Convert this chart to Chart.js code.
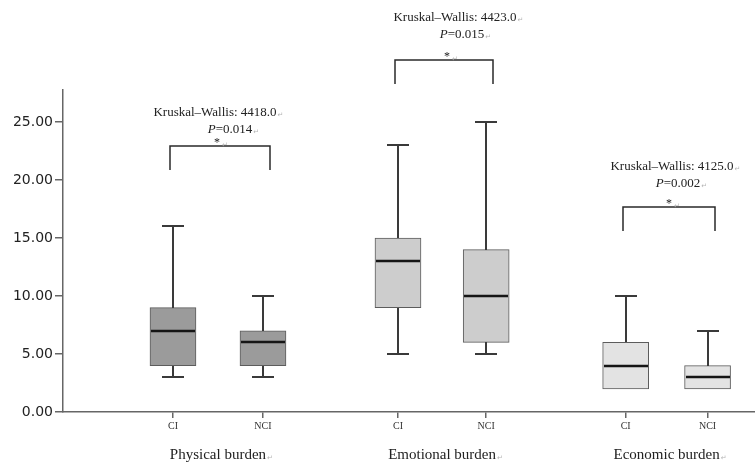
<!DOCTYPE html>
<html>
<head>
<meta charset="utf-8">
<script src="https://cdn.jsdelivr.net/npm/chart.js@4"></script>
<style>
  body { margin: 0; background: #fff; }
</style>
</head>
<body>
<canvas id="box" width="755" height="470"></canvas>
<script>
// data
let categories = ["CI", "NCI", "CI", "NCI", "CI", "NCI"];
let groups = ["Physical burden", "Emotional burden", "Economic burden"];
let whiskerLow = [3, 3, 5, 5, 2, 2];
let q1 = [4, 4, 9, 6, 2, 2];
let median = [7, 6, 13, 10, 4, 3];
let q3 = [9, 7, 15, 14, 6, 4];
let whiskerHigh = [16, 10, 23, 25, 10, 7];
let kwStat = ["4418.0", "4423.0", "4125.0"];
let pValue = ["0.014", "0.015", "0.002"];
let yTicks = [0, 5, 10, 15, 20, 25];

// where the boxes sit on the x axis (groups are spaced wider than boxes)
let xPos = [1, 2, 3.5, 4.48, 6.03, 6.94];
let boxFill = ["#9b9b9b", "#9b9b9b", "#cdcdcd", "#cdcdcd", "#e3e3e3", "#e3e3e3"];

// bracket level (y units) and little text nudges for each comparison
let notes = [
  { level: 22.93, pGap: 16, kwDx: -5, pDx: 10, starDx: -3 },
  { level: 30.34, pGap: 25, kwDx: 11, pDx: 18, starDx: 3 },
  { level: 17.67, pGap: 23, kwDx: 3, pDx: 9, starDx: 0 },
];

const SERIF = "'Liberation Serif', 'Times New Roman', serif";
const RET = "\u21B5";

function drawRet(ctx, x, y) {
  ctx.save();
  ctx.font = "7px 'DejaVu Sans'";
  ctx.fillStyle = "#b5b5b5";
  ctx.textAlign = "left";
  ctx.fillText(RET, x, y);
  ctx.restore();
}

let boxPlugin = {
  id: "boxExtras",
  afterDatasetsDraw(chart) {
    let ctx = chart.ctx;
    let x = chart.scales.x;
    let y = chart.scales.y;
    ctx.save();

    // whiskers + medians
    for (let i = 0; i < xPos.length; i++) {
      let cx = Math.round(x.getPixelForValue(xPos[i]));
      ctx.strokeStyle = "#3a3a3a";
      ctx.lineWidth = 2;
      if (whiskerHigh[i] > q3[i]) {
        let top = Math.round(y.getPixelForValue(whiskerHigh[i]));
        ctx.beginPath();
        ctx.moveTo(cx, Math.round(y.getPixelForValue(q3[i])));
        ctx.lineTo(cx, top);
        ctx.moveTo(cx - 11, top);
        ctx.lineTo(cx + 11, top);
        ctx.stroke();
      }
      if (whiskerLow[i] < q1[i]) {
        let bot = Math.round(y.getPixelForValue(whiskerLow[i]));
        ctx.beginPath();
        ctx.moveTo(cx, Math.round(y.getPixelForValue(q1[i])));
        ctx.lineTo(cx, bot);
        ctx.moveTo(cx - 11, bot);
        ctx.lineTo(cx + 11, bot);
        ctx.stroke();
      }
      let my = Math.round(y.getPixelForValue(median[i]));
      ctx.strokeStyle = "#151515";
      ctx.lineWidth = 2.5;
      ctx.beginPath();
      ctx.moveTo(cx - 22, my);
      ctx.lineTo(cx + 22, my);
      ctx.stroke();
    }

    // significance brackets and Kruskal-Wallis text
    for (let g = 0; g < groups.length; g++) {
      let n = notes[g];
      let left = Math.round(x.getPixelForValue(xPos[g * 2])) - 3;
      let right = Math.round(x.getPixelForValue(xPos[g * 2 + 1])) + 7;
      let by = Math.round(y.getPixelForValue(n.level));
      let mid = (left + right) / 2;

      ctx.strokeStyle = "#2a2a2a";
      ctx.lineWidth = 1.5;
      ctx.beginPath();
      ctx.moveTo(left, by + 24);
      ctx.lineTo(left, by);
      ctx.lineTo(right, by);
      ctx.lineTo(right, by + 24);
      ctx.stroke();

      ctx.fillStyle = "#222";
      ctx.textBaseline = "middle";
      ctx.textAlign = "left";

      // star
      ctx.font = "12px " + SERIF;
      let sw = ctx.measureText("*").width;
      let sx = mid + n.starDx - sw / 2;
      ctx.fillText("*", sx, by - 3);
      drawRet(ctx, sx + sw + 2, by - 1);

      // P line, P in italics
      let py = by - n.pGap;
      ctx.font = "italic 13px " + SERIF;
      let pw = ctx.measureText("P").width;
      ctx.font = "13px " + SERIF;
      let restTxt = "=" + pValue[g];
      let rw = ctx.measureText(restTxt).width;
      let px = mid + n.pDx - (pw + rw) / 2;
      ctx.font = "italic 13px " + SERIF;
      ctx.fillText("P", px, py);
      ctx.font = "13px " + SERIF;
      ctx.fillText(restTxt, px + pw, py);
      drawRet(ctx, px + pw + rw + 1, py + 2);

      // KW line
      let ky = py - 17;
      let kwTxt = "Kruskal\u2013Wallis: " + kwStat[g];
      let kw = ctx.measureText(kwTxt).width;
      let kx = mid + n.kwDx - kw / 2;
      ctx.fillText(kwTxt, kx, ky);
      drawRet(ctx, kx + kw + 1, ky + 2);

      // group caption under the axis
      ctx.font = "15px " + SERIF;
      let cw = ctx.measureText(groups[g]).width;
      let gx = (x.getPixelForValue(xPos[g * 2]) + x.getPixelForValue(xPos[g * 2 + 1])) / 2;
      ctx.fillText(groups[g], gx - cw / 2, 455);
      drawRet(ctx, gx + cw / 2 + 1, 458);
    }

    ctx.restore();
  },
};

renderBoxChart();

function renderBoxChart() {
  let el = document.querySelector("#box");
  let boxChart = new Chart(el, {
    type: "bar",
    data: {
      datasets: [
        {
          data: xPos.map((v, i) => ({ x: v, y: [q1[i], q3[i]] })),
          backgroundColor: boxFill,
          borderColor: "#5c5c5c",
          borderWidth: 1,
          borderSkipped: false,
          barThickness: 46,
        },
      ],
    },
    options: {
      responsive: false,
      animation: false,
      layout: { padding: { top: 90, left: 0, right: 0, bottom: 0 } },
      plugins: {
        legend: { display: false },
        tooltip: { enabled: false },
      },
      scales: {
        x: {
          type: "linear",
          min: -0.222,
          max: 7.467,
          offset: false,
          afterBuildTicks: (ax) => {
            ax.ticks = xPos.map((v) => ({ value: v }));
          },
          afterFit: (ax) => {
            ax.height = 58;
          },
          ticks: {
            autoSkip: false,
            maxRotation: 0,
            padding: 2,
            color: "#333",
            font: { family: SERIF, size: 10 },
            callback: (v, i) => categories[i],
          },
          grid: { offset: false, drawOnChartArea: false, tickLength: 6, color: "#666", lineWidth: 1.5 },
          border: { color: "#666", width: 1.5 },
        },
        y: {
          min: 0,
          max: 27.76,
          afterBuildTicks: (ax) => {
            ax.ticks = yTicks.map((v) => ({ value: v }));
          },
          afterFit: (ax) => {
            ax.width = 63;
          },
          ticks: {
            padding: 2,
            color: "#222",
            font: { family: "'DejaVu Sans'", size: 14 },
            callback: (v) => Number(v).toFixed(2),
          },
          grid: { drawOnChartArea: false, tickLength: 8, color: "#666", lineWidth: 1.5 },
          border: { color: "#666", width: 1.5 },
        },
      },
    },
    plugins: [boxPlugin],
  });
}
</script>
</body>
</html>
